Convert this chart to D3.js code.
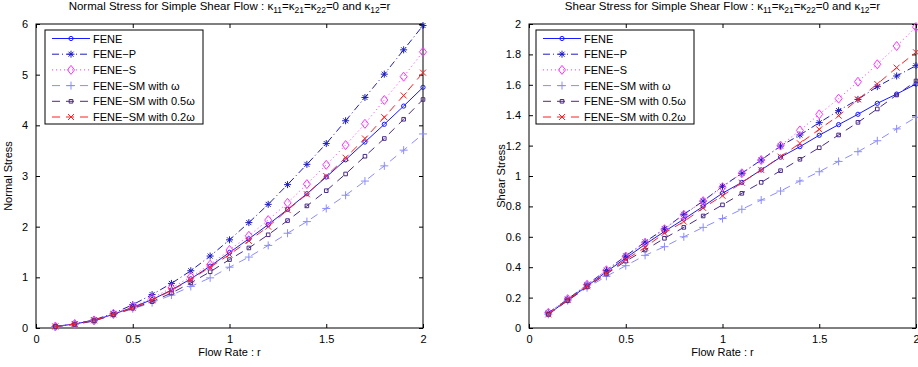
<!DOCTYPE html>
<html>
<head>
<meta charset="utf-8">
<script src="https://cdn.jsdelivr.net/npm/d3@7"></script>
<style>
  body { margin: 0; background: #fff; }
  text { font-family: "Liberation Sans", Arial, sans-serif; fill: #000; }
</style>
</head>
<body>
<div id="chart-area"></div>
<script>
// ---- data ----
const flowRate = [0.1, 0.2, 0.3, 0.4, 0.5, 0.6, 0.7, 0.8, 0.9, 1.0,
                  1.1, 1.2, 1.3, 1.4, 1.5, 1.6, 1.7, 1.8, 1.9, 2.0];

const seriesNames = ['FENE', 'FENE\u2212P', 'FENE\u2212S', 'FENE\u2212SM with \u03c9',
                     'FENE\u2212SM with 0.5\u03c9', 'FENE\u2212SM with 0.2\u03c9'];

const normalFene   = [0.03, 0.08, 0.15, 0.27, 0.41, 0.56, 0.75, 0.97, 1.22, 1.49, 1.76, 2.04, 2.34, 2.65, 2.98, 3.32, 3.67, 4.02, 4.38, 4.75];
const normalFeneP  = [0.03, 0.08, 0.16, 0.29, 0.46, 0.66, 0.88, 1.13, 1.42, 1.74, 2.08, 2.44, 2.83, 3.23, 3.64, 4.09, 4.55, 5.01, 5.49, 5.97];
const normalFeneS  = [0.03, 0.08, 0.15, 0.28, 0.42, 0.59, 0.79, 1.01, 1.25, 1.54, 1.82, 2.13, 2.47, 2.84, 3.22, 3.61, 4.03, 4.50, 4.96, 5.45];
const normalSm1    = [0.02, 0.07, 0.14, 0.26, 0.38, 0.50, 0.65, 0.82, 0.99, 1.20, 1.40, 1.63, 1.87, 2.10, 2.36, 2.62, 2.90, 3.20, 3.51, 3.83];
const normalSm05   = [0.03, 0.07, 0.14, 0.26, 0.39, 0.52, 0.69, 0.89, 1.11, 1.35, 1.58, 1.84, 2.12, 2.41, 2.71, 3.04, 3.39, 3.74, 4.12, 4.51];
const normalSm02   = [0.03, 0.08, 0.15, 0.27, 0.40, 0.55, 0.74, 0.96, 1.20, 1.45, 1.72, 2.00, 2.33, 2.64, 3.00, 3.36, 3.74, 4.16, 4.59, 5.04];

const shearFene    = [0.09, 0.185, 0.275, 0.37, 0.46, 0.55, 0.635, 0.716, 0.80, 0.887, 0.958, 1.04, 1.124, 1.193, 1.268, 1.338, 1.406, 1.478, 1.539, 1.605];
const shearFeneP   = [0.10, 0.19, 0.285, 0.38, 0.474, 0.566, 0.653, 0.748, 0.835, 0.932, 1.018, 1.105, 1.197, 1.27, 1.351, 1.43, 1.504, 1.588, 1.658, 1.726];
const shearFeneS   = [0.10, 0.19, 0.285, 0.38, 0.47, 0.56, 0.65, 0.745, 0.835, 0.926, 1.018, 1.105, 1.20, 1.30, 1.406, 1.509, 1.62, 1.735, 1.855, 1.98];
const shearSm1     = [0.09, 0.18, 0.265, 0.34, 0.41, 0.478, 0.535, 0.60, 0.662, 0.72, 0.781, 0.842, 0.901, 0.967, 1.028, 1.096, 1.16, 1.232, 1.31, 1.386];
const shearSm05    = [0.09, 0.18, 0.27, 0.355, 0.44, 0.513, 0.59, 0.662, 0.737, 0.81, 0.886, 0.958, 1.035, 1.11, 1.186, 1.27, 1.353, 1.441, 1.533, 1.625];
const shearSm02    = [0.09, 0.185, 0.275, 0.36, 0.45, 0.53, 0.625, 0.70, 0.79, 0.87, 0.956, 1.04, 1.127, 1.215, 1.307, 1.397, 1.504, 1.605, 1.713, 1.814];

const xTicks = [0, 0.5, 1, 1.5, 2];
const normalTicks = [0, 1, 2, 3, 4, 5, 6];
const shearTicks = [0, 0.2, 0.4, 0.6, 0.8, 1, 1.2, 1.4, 1.6, 1.8, 2];

// ---- styles ----
const styles = [
  {color: '#1a1aff', dash: null,       marker: 'circle'},
  {color: '#1c1cc0', dash: '7,3,1,3',  marker: 'star'},
  {color: '#ff33ff', dash: '1,3',      marker: 'diamond'},
  {color: '#8c8cff', dash: '8,6',      marker: 'plus'},
  {color: '#4a2a86', dash: '8,6',      marker: 'square'},
  {color: '#ff2020', dash: '8,6',      marker: 'x'}
];

function markerPath(type) {
  switch (type) {
    case 'circle':  return d3.symbol(d3.symbolCircle, 14)();
    case 'square':  return 'M-1.8,-1.8H1.8V1.8H-1.8Z';
    case 'diamond': return 'M0,-4.5L3.5,0L0,4.5L-3.5,0Z';
    case 'plus':    return 'M-4,0H4M0,-4V4';
    case 'x':       return 'M-3,-3L3,3M-3,3L3,-3';
    case 'star':    return 'M-3.5,0H3.5M0,-3.5V3.5M-2.5,-2.5L2.5,2.5M-2.5,2.5L2.5,-2.5';
  }
}

const svg = d3.select('#chart-area')
  .append('svg')
    .attr('width', 918)
    .attr('height', 367);

function drawPanel(opts) {
  const x = d3.scaleLinear().domain([0, 2]).range([opts.left, opts.left + 387]);
  const y = d3.scaleLinear().domain([0, opts.yMax]).range([328, 24]);
  const g = svg.append('g');

  // axes box
  g.append('rect')
    .attr('x', x(0)).attr('y', y(opts.yMax))
    .attr('width', x(2) - x(0)).attr('height', y(0) - y(opts.yMax))
    .attr('fill', 'none').attr('stroke', '#000').attr('stroke-width', 1);

  const fmt = d => String(d);
  const bottom = g.append('g').attr('transform', `translate(0,${y(0)})`)
    .call(d3.axisBottom(x).tickValues(xTicks).tickSizeInner(-4).tickSizeOuter(0).tickPadding(7).tickFormat(fmt));
  const top = g.append('g').attr('transform', `translate(0,${y(opts.yMax)})`)
    .call(d3.axisTop(x).tickValues(xTicks).tickSizeInner(-4).tickSizeOuter(0).tickFormat(''));
  const left = g.append('g').attr('transform', `translate(${x(0)},0)`)
    .call(d3.axisLeft(y).tickValues(opts.ticks).tickSizeInner(-4).tickSizeOuter(0).tickPadding(8).tickFormat(fmt));
  const right = g.append('g').attr('transform', `translate(${x(2)},0)`)
    .call(d3.axisRight(y).tickValues(opts.ticks).tickSizeInner(-4).tickSizeOuter(0).tickFormat(''));
  [bottom, top, left, right].forEach(a => {
    a.select('.domain').remove();
    a.selectAll('line').attr('stroke', '#000');
    a.selectAll('text').attr('font-size', '11px').attr('font-family', '"Liberation Sans", Arial, sans-serif');
  });

  // series
  const line = d3.line().x((d, i) => x(flowRate[i])).y(d => y(d));
  opts.series.forEach((vals, si) => {
    const st = styles[si];
    g.append('path')
      .attr('d', line(vals))
      .attr('fill', 'none')
      .attr('stroke', st.color)
      .attr('stroke-width', 1)
      .attr('stroke-dasharray', st.dash);
    g.selectAll(null)
      .data(vals)
      .enter()
      .append('path')
        .attr('transform', (d, i) => `translate(${x(flowRate[i])},${y(d)})`)
        .attr('d', markerPath(st.marker))
        .attr('fill', 'none')
        .attr('stroke', st.color)
        .attr('stroke-width', 1);
  });

  // title
  const t = g.append('text')
    .attr('x', (x(0) + x(2)) / 2)
    .attr('y', 10)
    .attr('text-anchor', 'middle')
    .attr('font-size', '11.5px');
  t.append('tspan').text(opts.title + ' : \u03ba');
  t.append('tspan').attr('dy', 3).attr('font-size', '8.5px').text('11');
  t.append('tspan').attr('dy', -3).text('=\u03ba');
  t.append('tspan').attr('dy', 3).attr('font-size', '8.5px').text('21');
  t.append('tspan').attr('dy', -3).text('=\u03ba');
  t.append('tspan').attr('dy', 3).attr('font-size', '8.5px').text('22');
  t.append('tspan').attr('dy', -3).text('=0 and \u03ba');
  t.append('tspan').attr('dy', 3).attr('font-size', '8.5px').text('12');
  t.append('tspan').attr('dy', -3).text('=r');

  // axis labels
  g.append('text')
    .attr('x', (x(0) + x(2)) / 2)
    .attr('y', 356)
    .attr('text-anchor', 'middle')
    .attr('font-size', '11px')
    .text('Flow Rate : r');
  g.append('text')
    .attr('transform', `translate(${opts.left - opts.yLabelOffset},${(y(0) + y(opts.yMax)) / 2}) rotate(-90)`)
    .attr('text-anchor', 'middle')
    .attr('font-size', '11px')
    .text(opts.yLabel);

  // legend
  const lx = opts.left + opts.legendDx;
  const legend = g.append('g').attr('transform', `translate(${lx},30)`);
  legend.append('rect')
    .attr('width', 158).attr('height', 94)
    .attr('fill', '#fff').attr('stroke', '#000').attr('stroke-width', 1);
  seriesNames.forEach((name, si) => {
    const st = styles[si];
    const ly = 8.5 + si * 15.7;
    legend.append('line')
      .attr('x1', 7).attr('x2', 45).attr('y1', ly).attr('y2', ly)
      .attr('stroke', st.color).attr('stroke-width', 1)
      .attr('stroke-dasharray', st.dash);
    legend.append('path')
      .attr('transform', `translate(26,${ly})`)
      .attr('d', markerPath(st.marker))
      .attr('fill', 'none').attr('stroke', st.color).attr('stroke-width', 1);
    legend.append('text')
      .attr('x', 48).attr('y', ly + 4)
      .attr('font-size', '11px')
      .text(name);
  });
}

drawPanel({
  left: 36, yMax: 6, ticks: normalTicks, yLabel: 'Normal Stress', yLabelOffset: 24,
  title: 'Normal Stress for Simple Shear Flow', legendDx: 9,
  series: [normalFene, normalFeneP, normalFeneS, normalSm1, normalSm05, normalSm02]
});

drawPanel({
  left: 529, yMax: 2, ticks: shearTicks, yLabel: 'Shear Stress', yLabelOffset: 24,
  title: 'Shear Stress for Simple Shear Flow', legendDx: 7,
  series: [shearFene, shearFeneP, shearFeneS, shearSm1, shearSm05, shearSm02]
});
</script>
</body>
</html>
